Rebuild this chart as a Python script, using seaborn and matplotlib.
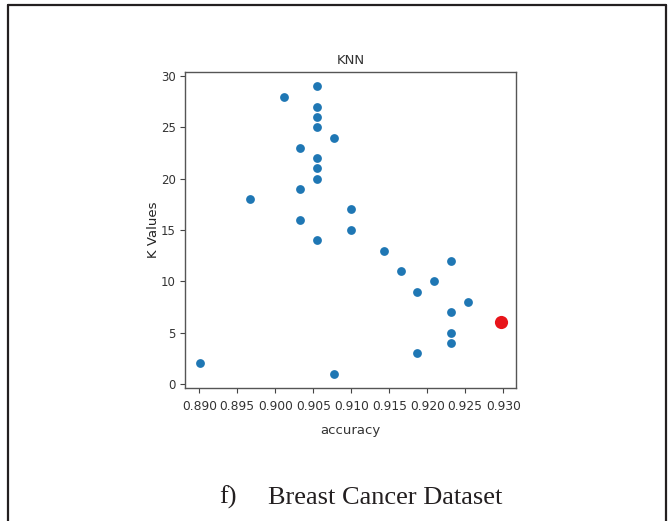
import matplotlib
matplotlib.use("Agg")
import matplotlib.pyplot as plt
import seaborn as sns
import pandas as pd
from matplotlib.lines import Line2D

# ---- data ----
k_values = list(range(1, 30))
accuracy = [0.9077, 0.8901, 0.9187, 0.9231, 0.9231, 0.9297, 0.9231, 0.9253,
            0.9187, 0.9209, 0.9165, 0.9231, 0.9143, 0.9055, 0.9099, 0.9033,
            0.9099, 0.8967, 0.9033, 0.9055, 0.9055, 0.9055, 0.9033, 0.9077,
            0.9055, 0.9055, 0.9055, 0.9011, 0.9055]
best_k = [6]
best_acc = [0.9297]
title = "KNN"
x_label = "accuracy"
y_label = "K Values"
caption_tag = "f)"
caption_text = "Breast Cancer Dataset"

df = pd.DataFrame({"accuracy": accuracy, "K": k_values})
best = pd.DataFrame({"accuracy": best_acc, "K": best_k})

sns.set_style("white")
plt.rcParams['font.family'] = ['DejaVu Sans']

W, H = 668, 521
fig = plt.figure(figsize=(W / 100, H / 100), dpi=100)
ax = fig.add_axes([185 / W, 1 - 388 / H, (516 - 185) / W, (388 - 72) / H])

sns.scatterplot(data=df, x="accuracy", y="K", ax=ax, color="#1f77b4",
                s=40, linewidth=0)
sns.scatterplot(data=best, x="accuracy", y="K", ax=ax, color="#e8141a",
                s=90, linewidth=0)

ax.set_xticks([0.890, 0.895, 0.900, 0.905, 0.910, 0.915, 0.920, 0.925, 0.930])
ax.set_xticklabels([f"{v:.3f}" for v in ax.get_xticks()])
ax.set_yticks([0, 5, 10, 15, 20, 25, 30])
ax.margins(0.05)

tcol = "#333333"
for lab in ax.get_xticklabels():
    lab.set_fontsize(8.8)
    lab.set_color(tcol)
for lab in ax.get_yticklabels():
    lab.set_fontsize(8.5)
    lab.set_color(tcol)
ax.tick_params(axis="x", length=3.5, width=0.8, color="#444444",
               direction="out", bottom=True, pad=5)
ax.tick_params(axis="y", length=3.5, width=0.8, color="#444444",
               direction="out", left=True, pad=3)
for sp in ax.spines.values():
    sp.set_color("#555555")
    sp.set_linewidth(1.0)

ax.set_title(title, fontsize=9.5, color=tcol, pad=6)
ax.set_xlabel(x_label, fontsize=9.5, color=tcol, labelpad=8)
ax.set_ylabel(y_label, fontsize=9.5, color="#222222", labelpad=1)

# caption
fig.text(219 / W, 1 - 504 / H, caption_tag, fontsize=19, family="Liberation Serif",
         color="#231f20", va="baseline", ha="left")
fig.text(268 / W, 1 - 504 / H, caption_text, fontsize=19, family="Liberation Serif",
         color="#231f20", va="baseline", ha="left")

# frame border
bc = "#231f20"
fig.add_artist(Line2D([8 / W, 8 / W], [0, 1 - 5 / H], transform=fig.transFigure, color=bc, lw=1.6))
fig.add_artist(Line2D([666 / W, 666 / W], [0, 1 - 5 / H], transform=fig.transFigure, color=bc, lw=1.6))
fig.add_artist(Line2D([8 / W, 666 / W], [1 - 5 / H, 1 - 5 / H], transform=fig.transFigure, color=bc, lw=1.6))

fig.savefig("out.png", dpi=100, facecolor="white")
